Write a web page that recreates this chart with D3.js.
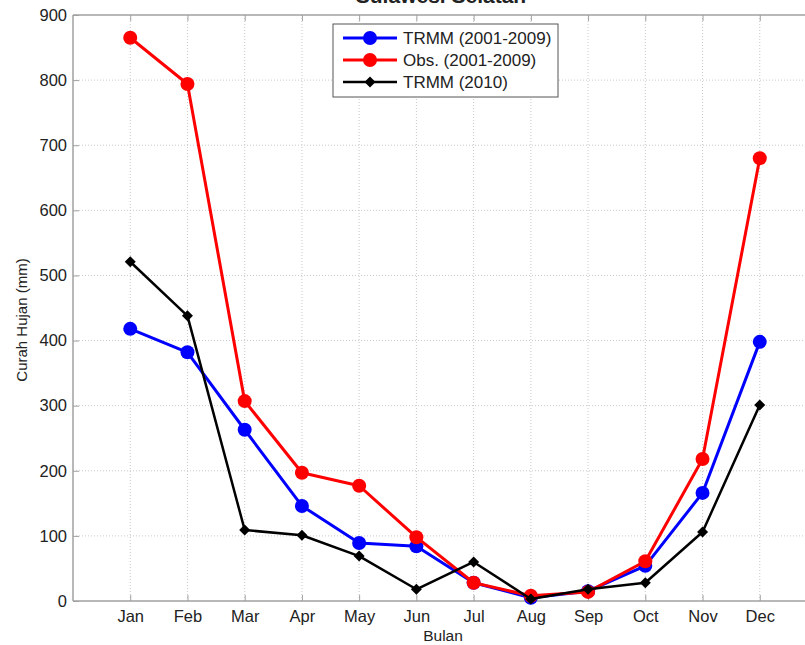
<!DOCTYPE html>
<html>
<head>
<meta charset="utf-8">
<script src="https://cdn.jsdelivr.net/npm/d3@7"></script>
<style>
  html, body { margin: 0; padding: 0; background: #fff; }
  svg { display: block; font-family: "Liberation Sans", Arial, sans-serif; }
</style>
</head>
<body>
<svg id="chart" width="805" height="645"></svg>
<script>
// Monthly rainfall, Sulawesi Selatan
const months = ["Jan","Feb","Mar","Apr","May","Jun","Jul","Aug","Sep","Oct","Nov","Dec"];
const trmmAvg = [418, 382, 263, 146, 89, 84, 28, 5, 15, 54, 166, 398];
const obsAvg  = [865, 794, 307, 197, 177, 98, 28, 8, 14, 61, 218, 680];
const trmm2010 = [521, 438, 109, 101, 69, 18, 60, 3, 18, 28, 106, 301];
const yTicks = [0, 100, 200, 300, 400, 500, 600, 700, 800, 900];
const seriesNames = ["TRMM (2001-2009)", "Obs. (2001-2009)", "TRMM (2010)"];

const series = [
  { name: seriesNames[0], values: trmmAvg, color: "#0000ff", marker: "circle", width: 3 },
  { name: seriesNames[1], values: obsAvg, color: "#ff0000", marker: "circle", width: 3 },
  { name: seriesNames[2], values: trmm2010, color: "#000000", marker: "diamond", width: 2.5 }
];

const svg = d3.select("#chart");
const plotL = 73, plotT = 15, plotB = 601, plotR = 817;

const x = d3.scaleLinear().domain([0, 13]).range([plotL, plotR]);
const y = d3.scaleLinear().domain([0, 900]).range([plotB, plotT]);

const axisColor = "#a0a0a0";
const tickFont = 16.5;
svg.append("defs").append("clipPath").attr("id", "plotclip")
  .append("rect").attr("x", plotL).attr("y", plotT - 10).attr("width", plotR - plotL + 10).attr("height", plotB - plotT + 20);

// dotted grid
const grid = svg.append("g");
grid.selectAll("line.gx").data(months).join("line").attr("class", "gx")
  .attr("x1", (d, i) => x(i + 1)).attr("x2", (d, i) => x(i + 1))
  .attr("y1", plotT).attr("y2", plotB)
  .attr("stroke", "#c8c8c8").attr("stroke-width", 1).attr("stroke-dasharray", "1,2");
grid.selectAll("line.gy").data(yTicks.slice(1, -1)).join("line").attr("class", "gy")
  .attr("x1", plotL).attr("x2", plotR)
  .attr("y1", d => y(d)).attr("y2", d => y(d))
  .attr("stroke", "#c8c8c8").attr("stroke-width", 1).attr("stroke-dasharray", "1,2");

// axes (inward ticks)
const yAxis = d3.axisLeft(y).tickValues(yTicks).tickSize(-6).tickPadding(6);
const gy = svg.append("g").attr("transform", `translate(${plotL},0)`).call(yAxis);
gy.select(".domain").remove();
gy.selectAll(".tick line").attr("stroke", axisColor);
gy.selectAll("text").attr("font-size", tickFont).attr("fill", "#222");

const xAxis = d3.axisBottom(x).tickValues(d3.range(1, 13)).tickFormat(d => months[d - 1]).tickSize(-6).tickPadding(9);
const gx = svg.append("g").attr("transform", `translate(0,${plotB})`).call(xAxis);
gx.select(".domain").remove();
gx.selectAll(".tick line").attr("stroke", axisColor);
gx.selectAll("text").attr("font-size", tickFont).attr("fill", "#222");

const xTop = d3.axisTop(x).tickValues(d3.range(1, 13)).tickSize(-6).tickFormat("");
const gxt = svg.append("g").attr("transform", `translate(0,${plotT})`).call(xTop);
gxt.select(".domain").remove();
gxt.selectAll(".tick line").attr("stroke", axisColor);

// frame
svg.append("line").attr("x1", plotL).attr("x2", plotL).attr("y1", plotT).attr("y2", plotB).attr("stroke", axisColor).attr("stroke-width", 1.5);
svg.append("line").attr("x1", plotL).attr("x2", plotR).attr("y1", plotB).attr("y2", plotB).attr("stroke", axisColor).attr("stroke-width", 1.5);
svg.append("line").attr("x1", plotL).attr("x2", plotR).attr("y1", plotT).attr("y2", plotT).attr("stroke", axisColor).attr("stroke-width", 1.5);

// series
const line = d3.line().x((d, i) => x(i + 1)).y(d => y(d));
const plot = svg.append("g").attr("clip-path", "url(#plotclip)");
const diamond = s => `M0,${-s}L${s},0L0,${s}L${-s},0Z`;

series.forEach(s => {
  const g = plot.append("g");
  g.append("path").datum(s.values).attr("d", line)
    .attr("fill", "none").attr("stroke", s.color).attr("stroke-width", s.width).attr("stroke-linejoin", "round");
  if (s.marker === "circle") {
    g.selectAll("circle").data(s.values).join("circle")
      .attr("cx", (d, i) => x(i + 1)).attr("cy", d => y(d)).attr("r", 7).attr("fill", s.color);
  } else {
    g.selectAll("path.m").data(s.values).join("path").attr("class", "m")
      .attr("d", diamond(5.5))
      .attr("transform", (d, i) => `translate(${x(i + 1)},${y(d)})`).attr("fill", s.color);
  }
});

// legend
const lg = svg.append("g").attr("transform", "translate(333,24)");
lg.append("rect").attr("width", 225).attr("height", 73).attr("fill", "#fff").attr("stroke", "#555").attr("stroke-width", 1);
series.forEach((s, i) => {
  const ry = 14 + i * 22;
  lg.append("line").attr("x1", 10).attr("x2", 64).attr("y1", ry).attr("y2", ry).attr("stroke", s.color).attr("stroke-width", s.width);
  if (s.marker === "circle") {
    lg.append("circle").attr("cx", 37).attr("cy", ry).attr("r", 7).attr("fill", s.color);
  } else {
    lg.append("path").attr("d", diamond(5.5)).attr("transform", `translate(37,${ry})`).attr("fill", s.color);
  }
  lg.append("text").attr("x", 70).attr("y", ry + 6).attr("font-size", 17).attr("fill", "#222").text(s.name);
});

// titles
svg.append("text").attr("x", 441).attr("y", 3).attr("text-anchor", "middle")
  .attr("font-size", 21).attr("font-weight", "bold").attr("fill", "#222").text("Sulawesi Selatan");
svg.append("text").attr("x", 443).attr("y", 641).attr("text-anchor", "middle")
  .attr("font-size", 15.5).attr("fill", "#222").text("Bulan");
svg.append("text").attr("transform", "translate(27,320) rotate(-90)").attr("text-anchor", "middle")
  .attr("font-size", 15).attr("fill", "#222").text("Curah Hujan (mm)");
</script>
</body>
</html>
